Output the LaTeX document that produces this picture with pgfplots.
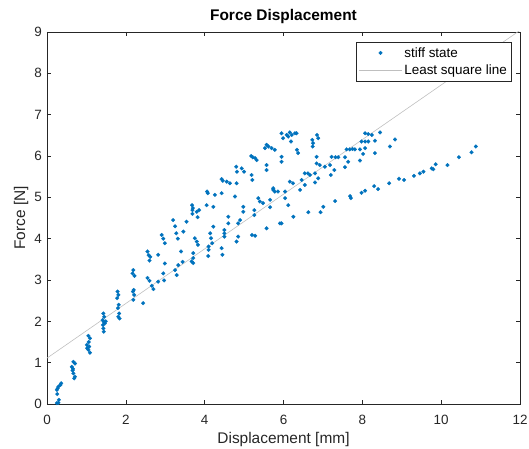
\documentclass[border=0pt]{standalone}
\usepackage{fontspec}
\setmainfont{Liberation Sans}
\usepackage{pgfplots}
\usepackage{pgfplotstable}
\pgfplotsset{compat=1.18}

\definecolor{mblue}{rgb}{0,0.447,0.741}
\definecolor{lsq}{rgb}{0.75,0.75,0.75}
\definecolor{axgray}{rgb}{0.15,0.15,0.15}

% displacement [mm], force [N]
\pgfplotstableread{
x y
0.25 0.02
0.29 0.03
0.30 0.10
0.26 0.24
0.25 0.34
0.27 0.38
0.29 0.42
0.34 0.46
0.36 0.50
0.67 1.02
0.71 0.98
0.63 0.90
0.66 0.85
0.65 0.81
0.67 0.74
0.71 0.66
0.69 0.62
1.05 1.65
1.09 1.59
1.06 1.50
1.01 1.43
1.07 1.39
1.02 1.35
1.05 1.31
1.09 1.24
1.43 2.19
1.45 2.11
1.41 2.03
1.49 2.00
1.44 1.99
1.47 1.95
1.42 1.91
1.43 1.83
1.44 1.75
1.79 2.72
1.81 2.64
1.78 2.56
1.82 2.40
1.80 2.32
1.83 2.19
1.81 2.11
1.84 2.07
2.19 3.24
2.17 3.16
2.22 3.10
2.20 2.76
2.18 2.72
2.21 2.64
2.19 2.52
2.44 2.44
2.55 3.69
2.58 3.60
2.62 3.56
2.60 3.47
2.55 3.05
2.60 2.98
2.66 2.86
2.70 2.78
2.82 3.61
2.82 2.96
2.91 4.09
2.95 4.00
2.99 3.89
2.99 3.40
2.95 3.16
2.97 2.99
3.20 4.45
3.25 4.30
3.28 4.13
3.32 4.00
3.25 3.24
3.33 3.36
3.29 3.12
3.40 3.69
3.44 3.44
3.46 4.17
3.54 4.41
3.68 4.81
3.70 4.74
3.69 4.69
3.80 4.65
3.86 4.69
3.69 4.60
3.82 4.52
3.75 4.01
3.80 3.93
3.83 3.85
3.71 3.65
3.71 3.53
3.67 3.45
3.71 3.41
4.06 5.14
4.08 5.10
4.26 5.06
4.05 4.81
4.22 4.77
4.14 4.13
4.16 4.01
4.19 3.89
4.10 3.81
4.10 3.73
4.09 3.58
4.22 4.29
4.43 5.44
4.46 5.40
4.56 5.38
4.64 5.34
4.43 5.10
4.77 5.02
4.50 4.21
4.50 4.13
4.50 4.05
4.60 4.53
4.60 4.37
4.45 3.61
4.43 3.77
4.85 4.05
4.81 3.93
4.80 5.74
4.82 5.62
4.94 5.70
5.00 5.62
4.81 5.34
4.98 4.77
4.98 4.65
4.90 4.45
4.85 4.37
5.18 6.00
5.22 5.97
5.28 5.95
5.32 5.90
5.19 5.54
5.21 5.42
5.20 4.09
5.28 4.07
5.26 4.69
5.26 4.57
5.36 4.98
5.40 4.90
5.48 4.86
5.95 6.55
5.99 6.43
6.08 6.51
6.12 6.47
6.16 6.57
6.21 6.51
6.29 6.55
6.33 6.55
6.85 6.51
6.88 6.43
6.73 6.39
6.75 6.31
6.74 6.23
6.19 6.35
5.57 6.27
5.62 6.23
5.70 6.19
5.53 6.19
5.78 6.15
6.34 6.15
6.37 6.07
5.57 5.78
5.57 5.66
5.95 5.98
5.95 5.86
6.84 5.98
6.84 5.82
6.92 5.78
7.05 5.74
7.22 5.98
7.18 5.78
7.29 5.66
7.20 5.54
6.54 5.58
6.62 5.58
6.67 5.54
6.80 5.58
6.88 5.46
6.80 5.36
6.46 5.42
6.16 5.38
6.24 5.34
6.54 5.30
6.42 5.18
5.74 5.22
5.74 5.18
5.78 5.14
5.86 5.14
6.04 5.14
5.66 4.94
5.66 4.76
6.04 4.98
6.12 4.81
6.25 4.53
6.63 4.64
6.94 4.64
7.01 4.77
5.57 4.25
5.91 4.37
5.95 4.37
8.07 6.55
8.15 6.53
8.24 6.51
8.45 6.57
7.98 6.35
8.07 6.35
8.15 6.35
8.32 6.37
8.83 6.40
8.70 6.23
7.60 6.16
7.68 6.16
7.75 6.17
7.81 6.16
7.94 6.16
8.07 6.19
8.02 6.05
8.32 6.07
7.32 5.97
7.39 5.97
7.56 5.97
7.64 5.86
7.94 5.89
7.56 5.73
7.31 4.91
7.69 5.03
7.71 4.98
7.98 5.11
8.07 5.16
8.30 5.27
8.40 5.20
8.68 5.34
8.93 5.45
9.06 5.42
9.31 5.52
9.46 5.58
9.55 5.62
9.76 5.70
9.80 5.68
9.86 5.80
10.16 5.78
10.45 5.97
10.77 6.09
10.88 6.23
}\stiff

\begin{document}
\begin{tikzpicture}
\begin{axis}[
    scale only axis,
    width=473bp, height=372bp,
    xmin=0, xmax=12, ymin=0, ymax=9,
    xtick={0,2,...,12}, ytick={0,1,...,9},
    tick pos=both, tick align=inside,
    major tick length=4bp,
    axis line style={axgray, line width=0.5bp},
    every tick/.style={axgray, line width=0.5bp},
    /pgf/number format/assume math mode=true,
    ticklabel style={font=\fontsize{13.5}{16}\selectfont, text=axgray},
    xticklabel style={anchor=base, yshift=-21bp},
    yticklabel style={anchor=east, inner sep=0pt, xshift=-5bp},
    title={Force Displacement},
    title style={font=\bfseries\fontsize{15.5}{18}\selectfont,
        at={(axis description cs:0.5,1.016)}, anchor=base},
    xlabel={Displacement [mm]},
    xlabel style={font=\fontsize{15.5}{18}\selectfont, text=axgray,
        at={(axis description cs:0.5,-0.1075)}, anchor=base},
    ylabel={Force [N]},
    ylabel style={font=\fontsize{15.5}{18}\selectfont, text=axgray,
        at={(axis description cs:-0.0465,0.5)}, anchor=base},
    legend style={at={(rel axis cs:0.981,0.973)}, anchor=north east,
        draw=axgray, line width=0.5bp, inner xsep=2bp, inner ysep=3bp,
        row sep=2.5bp, font=\fontsize{13.5}{15}\selectfont},
    legend cell align=left,
    legend image code/.code={\draw[mark repeat=2,mark phase=2,#1]
        plot coordinates {(0bp,0bp) (21.5bp,0bp) (43bp,0bp)};},
]
\addplot[only marks, mark=*, mark size=1.9bp, color=mblue,
    mark options={draw=mblue, fill=mblue, line width=0.2bp}] table {\stiff};
\addplot[lsq, line width=0.6bp, no marks] coordinates {(0,1.11) (12,9.04)};
\legend{stiff state, Least square line}
\coordinate (sw) at (rel axis cs:0,0);
\coordinate (ne) at (rel axis cs:1,1);
\end{axis}
\pgfresetboundingbox
\path ([shift={(-47bp,-45bp)}]sw) rectangle ([shift={(9bp,32bp)}]ne);
\end{tikzpicture}
\end{document}
